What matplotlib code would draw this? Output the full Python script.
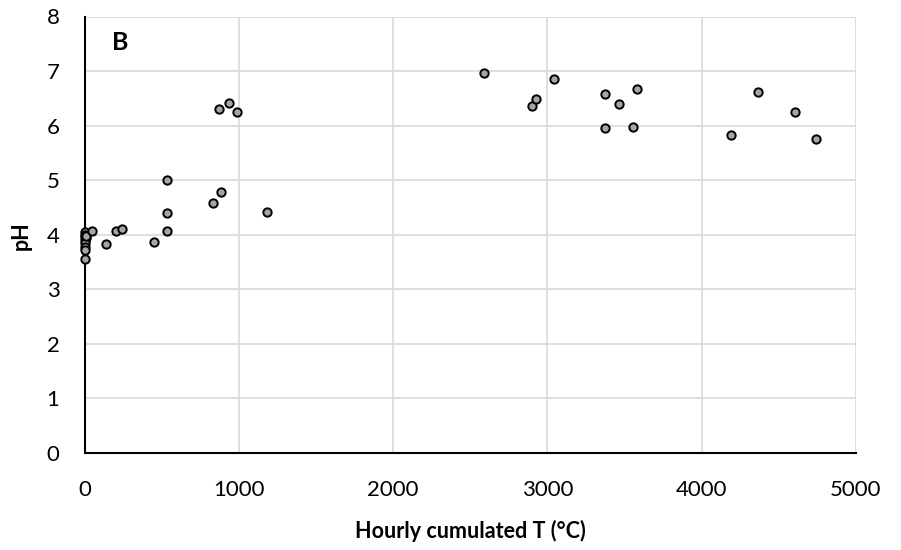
import matplotlib
matplotlib.use("Agg")
import matplotlib.pyplot as plt

plt.rcParams['font.family'] = ['Lato', 'DejaVu Sans']

cum_T = [0, 0, 5, 0, 10, 0, 0, 0, 0, 12, 51, 141, 204, 245, 450, 537, 537, 537,
         833, 885, 874, 936, 990, 1181,
         2591, 2898, 2926, 3043, 3373, 3373, 3466, 3553, 3579,
         4194, 4363, 4607, 4745]
pH = [4.04, 3.99, 3.95, 3.90, 3.93, 3.84, 3.78, 3.72, 3.55, 3.98, 4.06, 3.83, 4.06, 4.10, 3.87, 5.00, 4.39, 4.06,
      4.57, 4.78, 6.31, 6.42, 6.24, 4.42,
      6.97, 6.35, 6.49, 6.86, 6.57, 5.95, 6.39, 5.98, 6.67,
      5.83, 6.61, 6.24, 5.76]

xticks = [0, 1000, 2000, 3000, 4000, 5000]
yticks = [0, 1, 2, 3, 4, 5, 6, 7, 8]

fig = plt.figure(figsize=(9.01, 5.5), dpi=100)
ax = fig.add_axes([0.0938, 0.177, 0.856, 0.793])

ax.scatter(cum_T, pH, s=36, facecolor='#a6a6a6', edgecolor='black', linewidths=1.4, zorder=3, clip_on=False)

ax.set_xlim(0, 5000)
ax.set_ylim(0, 8)
ax.set_xticks(xticks)
ax.set_yticks(yticks)
ax.grid(True, color='#d9d9d9', linewidth=1.2, zorder=0)
ax.set_axisbelow(True)
for s in ['top', 'right']:
    ax.spines[s].set_visible(False)
for s in ['left', 'bottom']:
    ax.spines[s].set_color('black')
    ax.spines[s].set_linewidth(1.5)
ax.tick_params(length=0, labelsize=16, colors='black')
ax.tick_params(axis='x', pad=20)
ax.tick_params(axis='y', pad=18)

ax.set_xlabel('Hourly cumulated T (°C)', fontsize=15.5, fontweight='bold')
ax.xaxis.set_label_coords(0.5, -0.155)
ax.set_ylabel('pH', fontsize=15.5, fontweight='bold')
ax.yaxis.set_label_coords(-0.068, 0.497)
ax.text(0.046, 0.94, 'B', transform=ax.transAxes, fontsize=18, fontweight='bold', va='center', ha='center')

fig.savefig('out.png', dpi=100)
